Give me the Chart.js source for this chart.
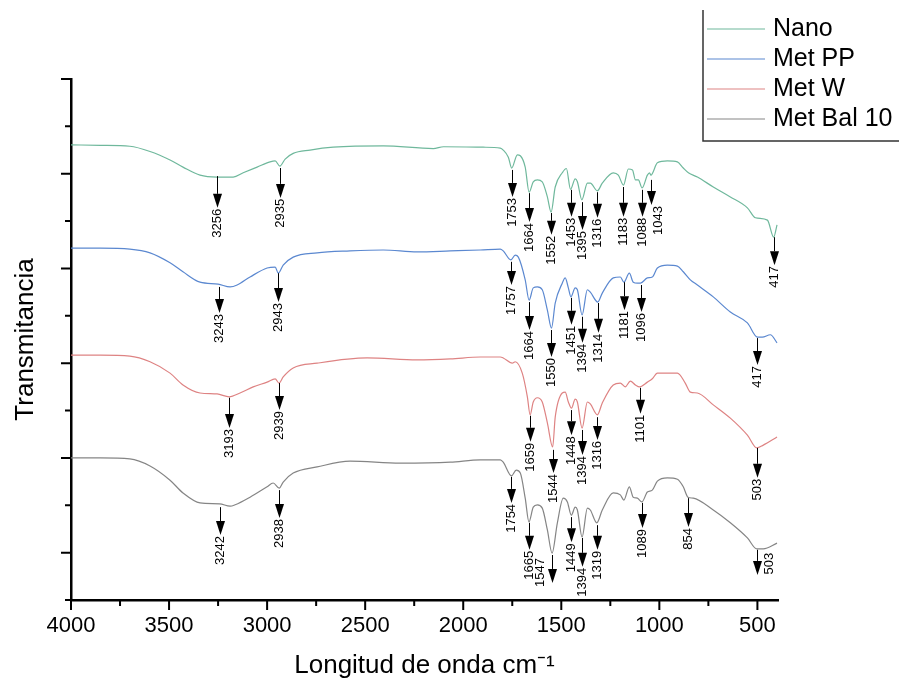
<!DOCTYPE html>
<html>
<head>
<meta charset="utf-8">
<script src="https://cdn.jsdelivr.net/npm/chart.js@4.4.1/dist/chart.umd.min.js"></script>
<style>
  html, body { margin: 0; background: #fff; }
</style>
</head>
<body>
<canvas id="ftir" width="899" height="685"></canvas>
<script>
// x axis: wavenumber (cm-1), reversed
const xTicks = [4000, 3500, 3000, 2500, 2000, 1500, 1000, 500];
const xMinorTicks = [3750, 3250, 2750, 2250, 1750, 1250, 750];
const yMajorTicks = [1, 3, 5, 7, 9, 11];
const yMinorTicks = [0, 2, 4, 6, 8, 10];

const seriesNames = ['Nano', 'Met PP', 'Met W', 'Met Bal 10'];
const seriesColors = ['#6fb89c', '#5b88d0', '#de8383', '#858585'];

// spectra, offset transmittance (arbitrary units)
const nanoWn = [4000, 3850, 3700, 3597, 3495, 3429, 3342, 3256, 3173, 3122, 3051, 2985, 2959, 2935, 2908, 2867, 2781, 2663, 2408, 2153, 2100, 1898, 1811, 1796, 1770, 1753, 1724, 1709, 1684, 1664, 1643, 1622, 1597, 1571, 1552, 1531, 1495, 1474, 1453, 1429, 1418, 1395, 1367, 1352, 1316, 1291, 1235, 1209, 1183, 1158, 1137, 1122, 1107, 1088, 1061, 1050, 1043, 1010, 959, 908, 878, 852, 806, 725, 638, 551, 510, 449, 417, 400];
const nanoT = [9.61, 9.60, 9.58, 9.47, 9.29, 9.14, 8.97, 8.93, 8.93, 9.02, 9.14, 9.25, 9.27, 9.16, 9.31, 9.43, 9.50, 9.56, 9.59, 9.53, 9.57, 9.56, 9.54, 9.50, 9.35, 9.12, 9.40, 9.38, 9.14, 8.61, 8.83, 8.87, 8.83, 8.51, 8.19, 8.72, 9.02, 9.11, 8.67, 8.89, 8.83, 8.45, 8.80, 8.80, 8.64, 8.80, 9.02, 8.97, 8.76, 9.10, 9.08, 8.87, 8.87, 8.70, 8.97, 9.02, 8.97, 9.23, 9.27, 9.25, 9.12, 9.02, 8.93, 8.72, 8.51, 8.28, 8.07, 8.02, 7.66, 7.92];

const metPPWn = [4000, 3850, 3700, 3597, 3495, 3429, 3342, 3250, 3189, 3153, 3087, 3000, 2959, 2943, 2918, 2867, 2745, 2577, 2408, 2235, 2066, 1913, 1811, 1796, 1757, 1735, 1719, 1684, 1664, 1643, 1622, 1597, 1571, 1550, 1531, 1495, 1480, 1464, 1451, 1429, 1418, 1394, 1367, 1352, 1314, 1291, 1235, 1199, 1181, 1153, 1133, 1112, 1096, 1061, 1036, 1010, 959, 908, 878, 842, 806, 725, 638, 551, 500, 475, 434, 400];
const metPPT = [7.43, 7.43, 7.41, 7.33, 7.12, 6.93, 6.71, 6.67, 6.61, 6.65, 6.82, 7.01, 7.03, 6.90, 7.07, 7.24, 7.33, 7.37, 7.39, 7.35, 7.37, 7.39, 7.41, 7.37, 7.18, 7.28, 7.24, 6.76, 6.33, 6.59, 6.61, 6.55, 6.12, 5.74, 6.27, 6.69, 6.80, 6.59, 6.40, 6.59, 6.55, 6.02, 6.55, 6.50, 6.29, 6.48, 6.80, 6.82, 6.71, 6.90, 6.71, 6.69, 6.69, 6.80, 6.82, 7.01, 7.07, 7.05, 6.93, 6.76, 6.65, 6.40, 6.08, 5.85, 5.55, 5.55, 5.60, 5.43];

const metWWn = [4000, 3850, 3700, 3597, 3495, 3429, 3342, 3255, 3193, 3138, 3071, 3000, 2959, 2939, 2918, 2867, 2745, 2490, 2235, 2066, 1913, 1811, 1796, 1750, 1735, 1699, 1673, 1659, 1643, 1622, 1597, 1571, 1544, 1531, 1495, 1480, 1464, 1448, 1429, 1418, 1394, 1367, 1352, 1316, 1291, 1235, 1199, 1174, 1148, 1122, 1101, 1061, 1036, 1010, 959, 908, 868, 842, 806, 725, 638, 551, 503, 470, 400];
const metWT = [5.17, 5.17, 5.15, 5.03, 4.79, 4.54, 4.37, 4.35, 4.29, 4.37, 4.50, 4.60, 4.67, 4.58, 4.71, 4.90, 5.00, 5.11, 5.07, 5.09, 5.13, 5.13, 5.11, 5.00, 5.03, 4.79, 4.29, 3.91, 4.18, 4.27, 4.18, 3.74, 3.23, 3.86, 4.37, 4.39, 4.18, 4.05, 4.24, 4.18, 3.63, 4.18, 4.14, 3.91, 4.16, 4.54, 4.58, 4.50, 4.62, 4.54, 4.50, 4.60, 4.67, 4.79, 4.79, 4.79, 4.58, 4.39, 4.37, 4.12, 3.84, 3.48, 3.21, 3.27, 3.44];

const metBalWn = [4000, 3850, 3700, 3597, 3495, 3429, 3342, 3242, 3189, 3163, 3087, 3000, 2969, 2938, 2918, 2867, 2745, 2577, 2321, 2066, 1913, 1811, 1796, 1754, 1730, 1709, 1684, 1665, 1643, 1622, 1597, 1571, 1547, 1520, 1490, 1469, 1449, 1429, 1418, 1394, 1367, 1352, 1319, 1291, 1235, 1199, 1181, 1153, 1133, 1112, 1089, 1061, 1036, 1010, 959, 908, 878, 854, 827, 725, 638, 551, 503, 470, 400];
const metBalT = [3.00, 3.00, 2.98, 2.83, 2.53, 2.26, 2.05, 2.03, 1.98, 2.01, 2.17, 2.39, 2.47, 2.36, 2.49, 2.68, 2.81, 2.93, 2.89, 2.91, 2.96, 2.96, 2.91, 2.62, 2.74, 2.68, 2.15, 1.65, 1.96, 2.01, 1.94, 1.48, 0.99, 1.63, 2.15, 2.07, 1.79, 1.96, 1.90, 1.33, 1.94, 1.90, 1.63, 1.90, 2.26, 2.22, 2.11, 2.39, 2.17, 2.15, 2.07, 2.28, 2.32, 2.51, 2.58, 2.55, 2.39, 2.17, 2.15, 1.90, 1.63, 1.31, 1.08, 1.08, 1.20];

// peak markers: label, arrow wavenumber, arrow start and arrow tip (y units)
const peakText = ['3256', '2935', '1753', '1664', '1552', '1453', '1395', '1316', '1183', '1088', '1043', '417',
  '3243', '2943', '1757', '1664', '1550', '1451', '1394', '1314', '1181', '1096', '417',
  '3193', '2939', '1659', '1544', '1448', '1394', '1316', '1101', '503',
  '3242', '2938', '1754', '1665', '1547', '1449', '1394', '1319', '1089', '854', '503'];
const peakWn = [3256, 2935, 1753, 1664, 1552, 1453, 1395, 1316, 1183, 1088, 1043, 417,
  3243, 2943, 1757, 1664, 1550, 1451, 1394, 1314, 1181, 1096, 500,
  3193, 2939, 1659, 1544, 1448, 1394, 1316, 1101, 503,
  3242, 2938, 1754, 1665, 1547, 1449, 1394, 1319, 1089, 854, 503];
const peakFrom = [8.95, 9.12, 9.08, 8.59, 8.17, 8.66, 8.40, 8.61, 8.72, 8.66, 8.87, 7.66,
  6.61, 6.90, 7.14, 6.29, 5.70, 6.38, 5.98, 6.27, 6.71, 6.65, 5.53,
  4.27, 4.58, 3.89, 3.17, 4.01, 3.59, 3.86, 4.48, 3.21,
  1.96, 2.32, 2.60, 1.63, 0.95, 1.75, 1.31, 1.58, 2.05, 2.15, 1.06];
const peakTo = [8.28, 8.49, 8.51, 7.98, 7.71, 8.09, 7.81, 8.07, 8.09, 8.09, 8.34, 7.07,
  6.06, 6.29, 6.65, 5.70, 5.13, 5.81, 5.43, 5.64, 6.12, 6.08, 4.96,
  3.63, 4.01, 3.34, 2.68, 3.48, 3.06, 3.38, 3.93, 2.58,
  1.37, 1.73, 2.05, 1.06, 0.36, 1.22, 0.70, 1.06, 1.52, 1.54, 0.53];

const FONT = '"Liberation Sans", Arial, sans-serif';

function toPoints(wn, t) {
  return wn.map((w, i) => ({ x: w, y: t[i] }));
}

const extras = {
  id: 'extras',
  afterDraw(chart, args, opts) {
    const ctx = chart.ctx;
    const sx = chart.scales.x, sy = chart.scales.y;
    ctx.save();

    // axis ticks, outward
    ctx.strokeStyle = '#000';
    ctx.lineWidth = 2;
    ctx.beginPath();
    xTicks.forEach(v => { const p = sx.getPixelForValue(v); ctx.moveTo(p, sy.bottom); ctx.lineTo(p, sy.bottom + 10); });
    xMinorTicks.forEach(v => { const p = sx.getPixelForValue(v); ctx.moveTo(p, sy.bottom); ctx.lineTo(p, sy.bottom + 6); });
    yMajorTicks.forEach(v => { const p = sy.getPixelForValue(v); ctx.moveTo(sx.left, p); ctx.lineTo(sx.left - 10, p); });
    yMinorTicks.forEach(v => { const p = sy.getPixelForValue(v); ctx.moveTo(sx.left, p); ctx.lineTo(sx.left - 6, p); });
    ctx.stroke();

    // peak arrows
    ctx.lineWidth = 1;
    ctx.fillStyle = '#000';
    ctx.font = '13px ' + FONT;
    peakText.forEach((txt, i) => {
      const px = Math.round(sx.getPixelForValue(peakWn[i])) + 0.5;
      const y0 = sy.getPixelForValue(peakFrom[i]);
      const y1 = sy.getPixelForValue(peakTo[i]);
      const head = 14;
      ctx.beginPath();
      ctx.moveTo(px, y0);
      ctx.lineTo(px, y1 - head);
      ctx.stroke();
      ctx.beginPath();
      ctx.moveTo(px - 4.5, y1 - head);
      ctx.lineTo(px + 4.5, y1 - head);
      ctx.lineTo(px, y1);
      ctx.closePath();
      ctx.fill();

      const nudge = opts.nudge[i] || {};
      const tx = px + (nudge.dx || 0);
      const ty = nudge.side ? y0 + 3 : y1 + 1;
      ctx.save();
      ctx.translate(tx, ty);
      ctx.rotate(-Math.PI / 2);
      ctx.textAlign = 'right';
      ctx.textBaseline = 'middle';
      ctx.fillText(txt, 0, 0);
      ctx.restore();
    });

    // legend box (right edge cut by the figure)
    const lg = opts.legend;
    ctx.strokeStyle = '#333';
    ctx.lineWidth = 1.5;
    ctx.beginPath();
    ctx.moveTo(lg.left, lg.top);
    ctx.lineTo(lg.left, lg.bottom);
    ctx.lineTo(chart.width + 2, lg.bottom);
    ctx.stroke();
    ctx.font = lg.fontSize + 'px ' + FONT;
    ctx.textAlign = 'left';
    ctx.textBaseline = 'middle';
    chart.data.datasets.forEach((ds, i) => {
      const y = lg.firstRow + i * lg.rowGap;
      ctx.strokeStyle = ds.borderColor;
      ctx.lineWidth = 1.2;
      ctx.beginPath();
      ctx.moveTo(lg.left + 4, y);
      ctx.lineTo(lg.left + 62, y);
      ctx.stroke();
      ctx.fillStyle = '#000';
      ctx.fillText(ds.label, lg.left + 70, y);
    });
    ctx.restore();
  }
};

const seriesWn = [nanoWn, metPPWn, metWWn, metBalWn];
const seriesT = [nanoT, metPPT, metWT, metBalT];

new Chart(document.getElementById('ftir'), {
  type: 'line',
  data: {
    datasets: seriesNames.map((name, i) => ({
      label: name,
      data: toPoints(seriesWn[i], seriesT[i]),
      borderColor: seriesColors[i],
      borderWidth: 1.2,
      pointRadius: 0,
      cubicInterpolationMode: 'monotone',
      fill: false
    }))
  },
  options: {
    responsive: false,
    animation: false,
    layout: { padding: { left: 0, top: 79, right: 121, bottom: 0 } },
    plugins: {
      legend: { display: false },
      tooltip: { enabled: false },
      extras: {
        legend: { left: 703, top: 10, bottom: 141, firstRow: 29, rowGap: 30, fontSize: 25 },
        nudge: { 10: { dx: 7 }, 36: { dx: -12, side: true }, 42: { dx: 12, side: true } }
      }
    },
    scales: {
      x: {
        type: 'linear',
        reverse: true,
        min: 395,
        max: 4000,
        afterBuildTicks: s => { s.ticks = xTicks.map(v => ({ value: v })); },
        afterFit: s => { s.height = 85; },
        grid: { drawOnChartArea: false, drawTicks: true, tickLength: 10, color: 'rgba(0,0,0,0)' },
        border: { color: '#000', width: 2.5 },
        ticks: { color: '#000', padding: 3, autoSkip: false, maxRotation: 0, font: { family: FONT, size: 22 }, callback: v => String(v) },
        title: { display: true, text: 'Longitud de onda cm⁻¹', color: '#000', padding: { top: 0, bottom: 4 }, font: { family: FONT, size: 26 } }
      },
      y: {
        min: 0,
        max: 11,
        afterFit: s => { s.width = 71; },
        grid: { drawOnChartArea: false, drawTicks: false, color: 'rgba(0,0,0,0)' },
        border: { color: '#000', width: 2.5 },
        ticks: { display: false },
        title: { display: true, text: 'Transmitancia', color: '#000', padding: { top: 10, bottom: 0 }, font: { family: FONT, size: 26 } }
      }
    }
  },
  plugins: [extras]
});
</script>
</body>
</html>
